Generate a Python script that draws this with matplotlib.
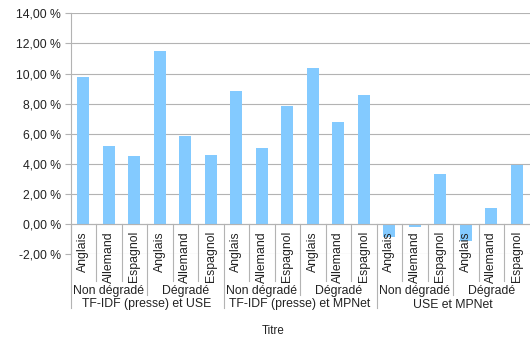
import matplotlib
matplotlib.use("Agg")
import matplotlib.pyplot as plt
import matplotlib.transforms as mtransforms
from matplotlib.ticker import FuncFormatter, MultipleLocator

plt.rcParams['font.family'] = ['Liberation Sans', 'DejaVu Sans']

languages = ['Anglais', 'Allemand', 'Espagnol']
conditions = ['Non dégradé', 'Dégradé']
models = ['TF-IDF (presse) et USE', 'TF-IDF (presse) et MPNet', 'USE et MPNet']

# values in %, order: Non dégradé (Anglais, Allemand, Espagnol), Dégradé (same)
tfidf_use = [9.75, 5.2, 4.55, 11.5, 5.85, 4.6]
tfidf_mpnet = [8.85, 5.05, 7.85, 10.35, 6.8, 8.55]
use_mpnet = [-0.85, -0.2, 3.35, -1.15, 1.05, 3.95]

values = tfidf_use + tfidf_mpnet + use_mpnet
n = len(values)

W, H = 530, 338
fig = plt.figure(figsize=(W / 100, H / 100), dpi=100)
left, right, top, bottom = 70.5, 529.5, 13.3, 254.2
ax = fig.add_axes([left / W, 1 - bottom / H, (right - left) / W, (bottom - top) / H])

grid_c = '#b3b3b3'
text_c = '#222222'
xs = [i + 0.5 for i in range(n)]
ax.bar(xs, values, width=0.49, color='#83caff', zorder=3)

ax.set_xlim(0, n)
ax.set_ylim(-2, 14)
ax.yaxis.set_major_locator(MultipleLocator(2))
ax.yaxis.set_major_formatter(FuncFormatter(lambda v, p: f"{v:.2f}".replace('.', ',') + " %"))
ax.grid(axis='y', color=grid_c, linewidth=0.8, zorder=0)
ax.set_xticks([])
for s in ['top', 'right', 'bottom']:
    ax.spines[s].set_visible(False)
ax.spines['left'].set_color(grid_c)
ax.spines['left'].set_linewidth(0.8)
ax.tick_params(axis='y', length=4, width=0.8, color=grid_c, pad=3, labelsize=8.8, labelcolor=text_c)
ax.axhline(0, color=grid_c, linewidth=0.8, zorder=4)

trans = mtransforms.blended_transform_factory(ax.transData, fig.transFigure)
def fy(p):
    return 1 - p / H

# separators
y0 = 224.0
for i in range(n):
    if i % 6 == 0:
        yb = 308
    elif i % 3 == 0:
        yb = 295
    else:
        yb = 281
    ax.plot([i, i], [fy(y0), fy(yb)], transform=trans, color=grid_c, linewidth=0.8, clip_on=False, zorder=5)

# level 1 labels (rotated)
for i in range(n):
    ax.text(i + 0.5, fy(231), languages[i % 3], rotation=90, ha='center', va='top',
            transform=trans, fontsize=8.8, color=text_c, clip_on=False, zorder=6)
# level 2 labels
for j in range(n // 3):
    ax.text(j * 3 + 1.5, fy(294), conditions[j % 2], ha='center', va='baseline',
            transform=trans, fontsize=8.8, color=text_c, clip_on=False)
# level 3 labels
for k in range(n // 6):
    ax.text(k * 6 + 3, fy(307.5), models[k], ha='center', va='baseline',
            transform=trans, fontsize=8.8, color=text_c, clip_on=False)

fig.text(273 / W, fy(334), 'Titre', ha='center', va='baseline', fontsize=8.3, color=text_c)

fig.savefig('out.png', dpi=100)
